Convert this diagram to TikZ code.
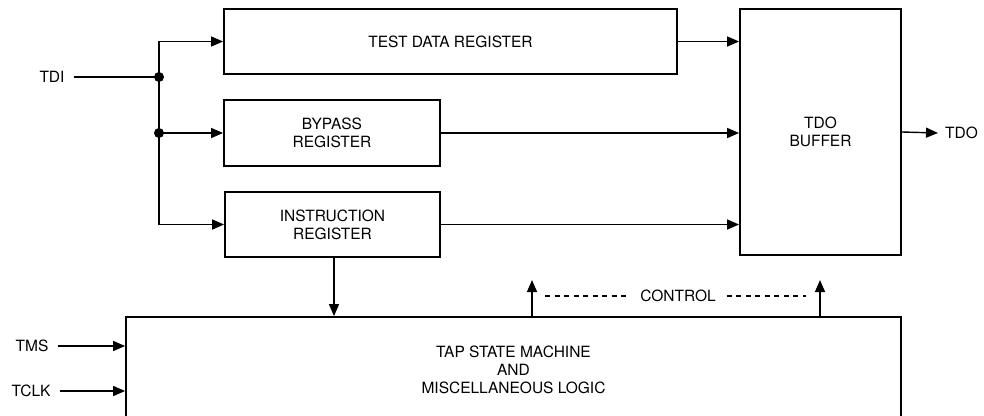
\documentclass[tikz,border=0pt]{standalone}
\usepackage{fontspec}
\setmainfont{TeX Gyre Heros}
\usetikzlibrary{arrows.meta}
\begin{document}
\begin{tikzpicture}[x=1pt,y=-1pt,
  box/.style={draw, line width=1.8pt, inner sep=0pt, align=center,
    font=\fontsize{15.5}{18}\selectfont},
  lbl/.style={inner sep=1pt, font=\fontsize{15.5}{18}\selectfont},
  conn/.style={line width=1.4pt},
  arr/.style={conn, -{Triangle[length=12pt,width=10pt]}},
  dot/.style={circle, fill, inner sep=0pt, minimum size=10pt}]
\clip (0,0) rectangle (984,415);
\fill[white] (0,0) rectangle (984,415);
% boxes
\node[box, minimum width=453pt, minimum height=65pt] (tdr) at (450.5,41.5) {TEST DATA REGISTER};
\node[box, minimum width=216pt, minimum height=66pt] (byp) at (332,133) {BYPASS\\REGISTER};
\node[box, minimum width=215pt, minimum height=65pt] (ir) at (332.5,224.5) {INSTRUCTION\\REGISTER};
\node[box, minimum width=161pt, minimum height=246pt] (tdo) at (820.5,132) {TDO\\BUFFER};
\node[box, minimum width=775pt, minimum height=106pt, font=\fontsize{15.5}{18}\selectfont] (tap) at (513.5,370) {TAP STATE MACHINE\\AND\\MISCELLANEOUS LOGIC};
% labels
\node[lbl] (tdi) at (52,77) {TDI};
\node[lbl, anchor=west] (tdoout) at (944,133) {TDO};
\node[lbl] (tms) at (32,346) {TMS};
\node[lbl] (tclk) at (31,391) {TCLK};
\node[lbl, inner xsep=11pt] (ctrl) at (678,296) {CONTROL};
% junctions
\node[dot] (j1) at (159,77) {};
\node[dot] (j2) at (159,133) {};
\coordinate (c1) at (532,280);
\coordinate (c2) at (820,280);
\coordinate (d1) at (545,296);
\coordinate (d2) at (806,296);
% connectors
\draw[conn] (tdi.east) ++(8pt,0) -- (j1.center);
\draw[arr] (j1.center) |- (tdr.west);
\draw[conn] (j1.center) -- (j2.center);
\draw[arr] (j2.center) -- (byp.west);
\draw[arr] (j2.center) |- (ir.west);
\draw[arr] (tdr.east) -- (tdr.east -| tdo.west);
\draw[arr] (byp.east) -- (byp.east -| tdo.west);
\draw[arr] (ir.east) -- (ir.east -| tdo.west);
\draw[arr] (tdo.east) -- ([xshift=-6pt]tdoout.west);
\draw[arr] (tms.east) ++(8pt,0) -- (tms.east -| tap.west);
\draw[arr] (tclk.east) ++(8pt,0) -- (tclk.east -| tap.west);
\draw[arr] ([xshift=1.5pt]ir.south) -- ([xshift=1.5pt]ir.south |- tap.north);
\draw[arr] (c1 |- tap.north) -- (c1);
\draw[arr] (c2 |- tap.north) -- (c2);
\draw[line width=1.1pt, dash pattern=on 5pt off 4.5pt] (d1) -- (ctrl.west);
\draw[line width=1.1pt, dash pattern=on 5pt off 4.5pt] (ctrl.east) -- (d2);
\end{tikzpicture}
\end{document}
